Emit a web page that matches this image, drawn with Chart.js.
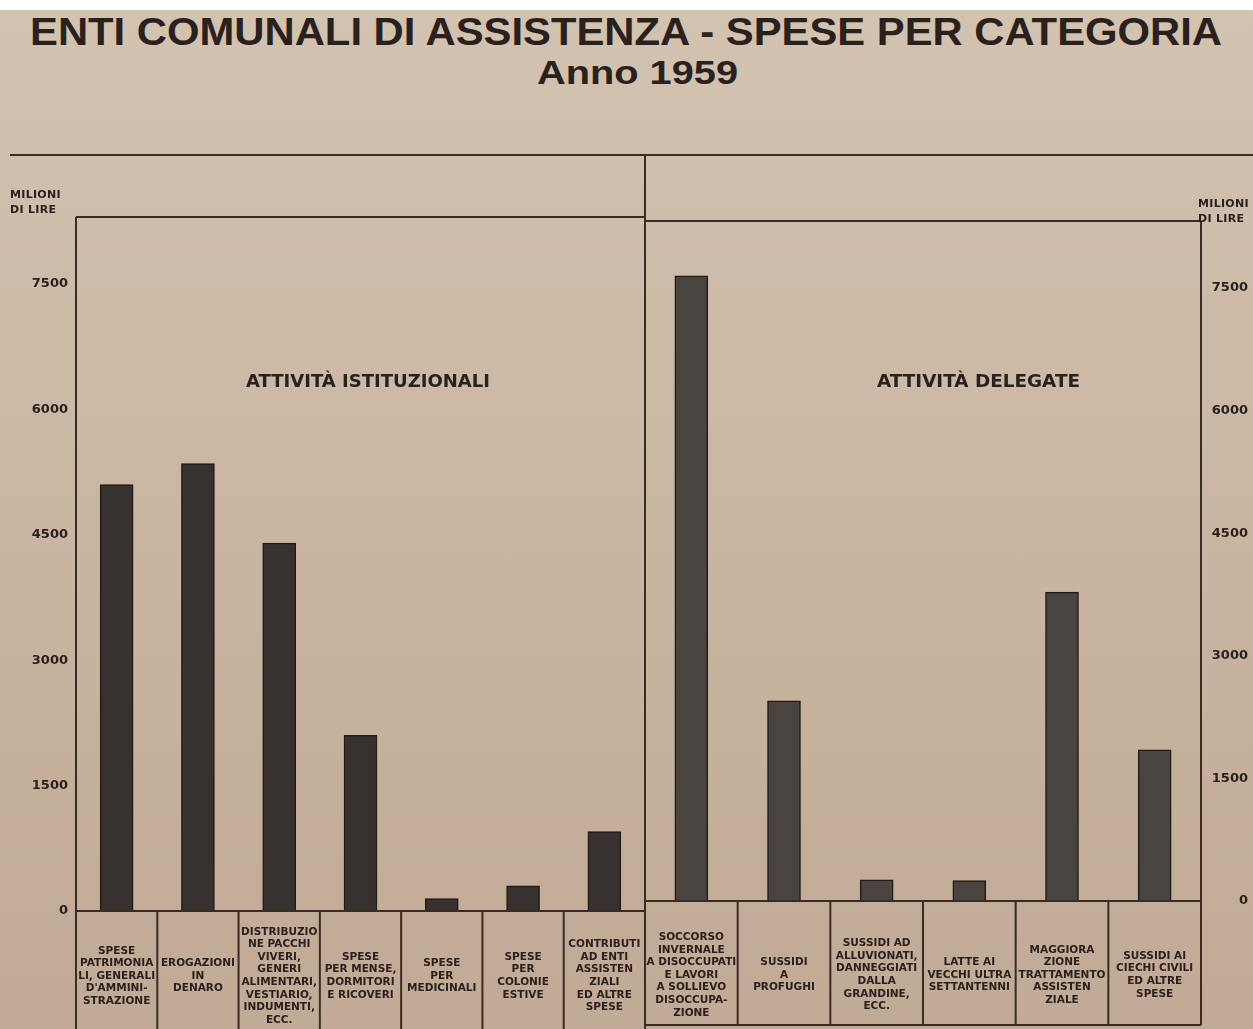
<!DOCTYPE html>
<html>
<head>
<meta charset="utf-8">
<script src="https://cdn.jsdelivr.net/npm/chart.js@4.4.1/dist/chart.umd.min.js"></script>
<style>
  html, body { margin: 0; padding: 0; }
  body { width: 1253px; height: 1029px; overflow: hidden;
         background: linear-gradient(to bottom, #d3c3b1 0%, #cdbba8 30%, #c6b19d 70%, #c1aa96 100%); }
  #wrap { position: relative; width: 1253px; height: 1029px; }
  .abs { position: absolute; white-space: nowrap; color: #2a201c; }
  .txt { display: inline-block; transform-origin: left top; }
  .hl { position: absolute; height: 2px; background: #3a2b25; }
  .vl { position: absolute; width: 2px; background: #3a2b25; }
  canvas { position: absolute; top: 0; }
</style>
</head>
<body>
<div id="wrap">
  <div style="position:absolute;left:0;top:0;width:1253px;height:10px;background:#fff"></div>
  <div class="abs" style="left:30px;top:13px;font:bold 38px 'Liberation Sans', Arial, sans-serif;line-height:38px"><span class="txt" id="title"></span></div>
  <div class="abs" style="left:537px;top:56px;font:bold 33px 'Liberation Sans', Arial, sans-serif;line-height:33px"><span class="txt" id="subtitle"></span></div>
  <div class="hl" style="left:10px;top:154px;width:1243px"></div>
  <div class="vl" style="left:644px;top:154px;height:875px"></div>
  <canvas id="cL" width="646" height="1029" style="left:0"></canvas>
  <canvas id="cR" width="608" height="1029" style="left:645px"></canvas>
  <div class="abs" id="unitL" style="left:10px;top:187px;font:bold 11px 'DejaVu Sans', sans-serif;line-height:15px;letter-spacing:0.3px"></div>
  <div class="abs" id="unitR" style="left:1198px;top:196px;font:bold 11px 'DejaVu Sans', sans-serif;line-height:15px;letter-spacing:0.3px"></div>
  <div class="abs" style="left:246px;top:373px;font:bold 17px 'DejaVu Sans', sans-serif;line-height:17px"><span class="txt" id="secL"></span></div>
  <div class="abs" style="left:877px;top:373px;font:bold 17px 'DejaVu Sans', sans-serif;line-height:17px"><span class="txt" id="secR"></span></div>
</div>
<script>
// ---------------- DATA ----------------
const titleText = "ENTI COMUNALI DI ASSISTENZA - SPESE PER CATEGORIA";
const subtitleText = "Anno 1959";
const sectionLeft = "ATTIVITÀ ISTITUZIONALI";
const sectionRight = "ATTIVITÀ DELEGATE";
const unitLabel = ["MILIONI", "DI LIRE"];
const tickValues = [0, 1500, 3000, 4500, 6000, 7500];

const catsIst = [
  ["SPESE", "PATRIMONIA", "LI, GENERALI", "D'AMMINI-", "STRAZIONE"],
  ["EROGAZIONI", "IN", "DENARO"],
  ["DISTRIBUZIO", "NE PACCHI", "VIVERI,", "GENERI", "ALIMENTARI,", "VESTIARIO,", "INDUMENTI,", "ECC."],
  ["SPESE", "PER MENSE,", "DORMITORI", "E RICOVERI"],
  ["SPESE", "PER", "MEDICINALI"],
  ["SPESE", "PER", "COLONIE", "ESTIVE"],
  ["CONTRIBUTI", "AD ENTI", "ASSISTEN", "ZIALI", "ED ALTRE", "SPESE"]
];
const valIst = [5100, 5350, 4400, 2100, 150, 300, 950];

const catsDel = [
  ["SOCCORSO", "INVERNALE", "A DISOCCUPATI", "E LAVORI", "A SOLLIEVO", "DISOCCUPA-", "ZIONE"],
  ["SUSSIDI", "A", "PROFUGHI"],
  ["SUSSIDI AD", "ALLUVIONATI,", "DANNEGGIATI", "DALLA", "GRANDINE,", "ECC."],
  ["LATTE AI", "VECCHI ULTRA", "SETTANTENNI"],
  ["MAGGIORA", "ZIONE", "TRATTAMENTO", "ASSISTEN", "ZIALE"],
  ["SUSSIDI AI", "CIECHI CIVILI", "ED ALTRE", "SPESE"]
];
const valDel = [7650, 2450, 260, 250, 3780, 1850];

// ---------------- STYLE ----------------
const TEXT = '#2a201c';
const LINE = '#3a2b25';

function fit(id, text, target) {
  const el = document.getElementById(id);
  el.textContent = text;
  const w = el.getBoundingClientRect().width;
  el.style.transform = 'scaleX(' + (target / w) + ')';
}
fit('title', titleText, 1192);
fit('subtitle', subtitleText, 201);
fit('secL', sectionLeft, 244);
fit('secR', sectionRight, 203);
document.getElementById('unitL').innerHTML = unitLabel.join('<br>');
document.getElementById('unitR').innerHTML = unitLabel.join('<br>');

const framePlugin = {
  id: 'frame',
  afterDraw(chart, args, opts) {
    const ctx = chart.ctx, a = chart.chartArea, xs = chart.scales.x;
    const labels = chart.data.labels;
    const n = labels.length, w = a.width / n;
    const seg = (x1, y1, x2, y2) => { ctx.beginPath(); ctx.moveTo(x1, y1); ctx.lineTo(x2, y2); ctx.stroke(); };
    ctx.save();
    ctx.strokeStyle = LINE;
    ctx.lineWidth = 2;
    seg(a.left, a.top, a.right, a.top);
    const ax = opts.side === 'left' ? a.left : a.right;
    seg(ax, a.top, ax, a.bottom);
    seg(a.left, a.bottom, a.right, a.bottom);
    for (let k = 0; k <= n; k++) {
      const x = a.left + k * w;
      seg(x, a.bottom, x, opts.boxBottom);
    }
    if (opts.boxBottom < chart.height) seg(a.left, opts.boxBottom, a.right, opts.boxBottom);
    ctx.fillStyle = TEXT;
    ctx.font = 'bold 10.5px "DejaVu Sans", sans-serif';
    ctx.textAlign = 'center';
    ctx.textBaseline = 'middle';
    const lh = 12.6;
    labels.forEach((lab, i) => {
      const cx = xs.getPixelForValue(i);
      lab.forEach((t, j) => {
        ctx.fillText(t, cx, opts.labelCenter + (j - (lab.length - 1) / 2) * lh, w - 3);
      });
    });
    ctx.restore();
  }
};

function makeChart(id, labels, values, g) {
  return new Chart(document.getElementById(id), {
    type: 'bar',
    data: {
      labels: labels,
      datasets: [{
        data: values,
        backgroundColor: g.fill,
        borderColor: '#211b18',
        borderWidth: 1.5,
        barThickness: 33
      }]
    },
    options: {
      responsive: false,
      animation: false,
      layout: { padding: { top: g.top, bottom: g.bottomPad, left: g.padL, right: g.padR } },
      plugins: {
        legend: { display: false },
        tooltip: { enabled: false },
        frame: { side: g.side, boxBottom: g.boxBottom, labelCenter: g.labelCenter }
      },
      scales: {
        x: { display: false, offset: true },
        y: {
          position: g.side,
          min: 0,
          max: g.max,
          afterBuildTicks: s => { s.ticks = tickValues.map(v => ({ value: v })); },
          afterFit: s => { s.width = g.axisW; },
          grid: { display: false, drawTicks: false },
          border: { display: false },
          ticks: {
            color: TEXT,
            font: { family: '"DejaVu Sans", sans-serif', size: 13, weight: 'bold' },
            padding: g.tickPad,
            crossAlign: g.side === 'right' ? 'far' : 'near',
            callback: v => String(v)
          }
        }
      }
    },
    plugins: [framePlugin]
  });
}

makeChart('cL', catsIst, valIst, {
  side: 'left', top: 217, bottomPad: 1029 - 911, padL: 0, padR: 1, axisW: 76,
  tickPad: 8, max: 8300, fill: '#37312f', boxBottom: 1029, labelCenter: 976
});
makeChart('cR', catsDel, valDel, {
  side: 'right', top: 221, bottomPad: 1029 - 901, padL: 0, padR: 5, axisW: 47,
  tickPad: 8, max: 8320, fill: '#4a4441', boxBottom: 1025, labelCenter: 975
});
</script>
</body>
</html>
